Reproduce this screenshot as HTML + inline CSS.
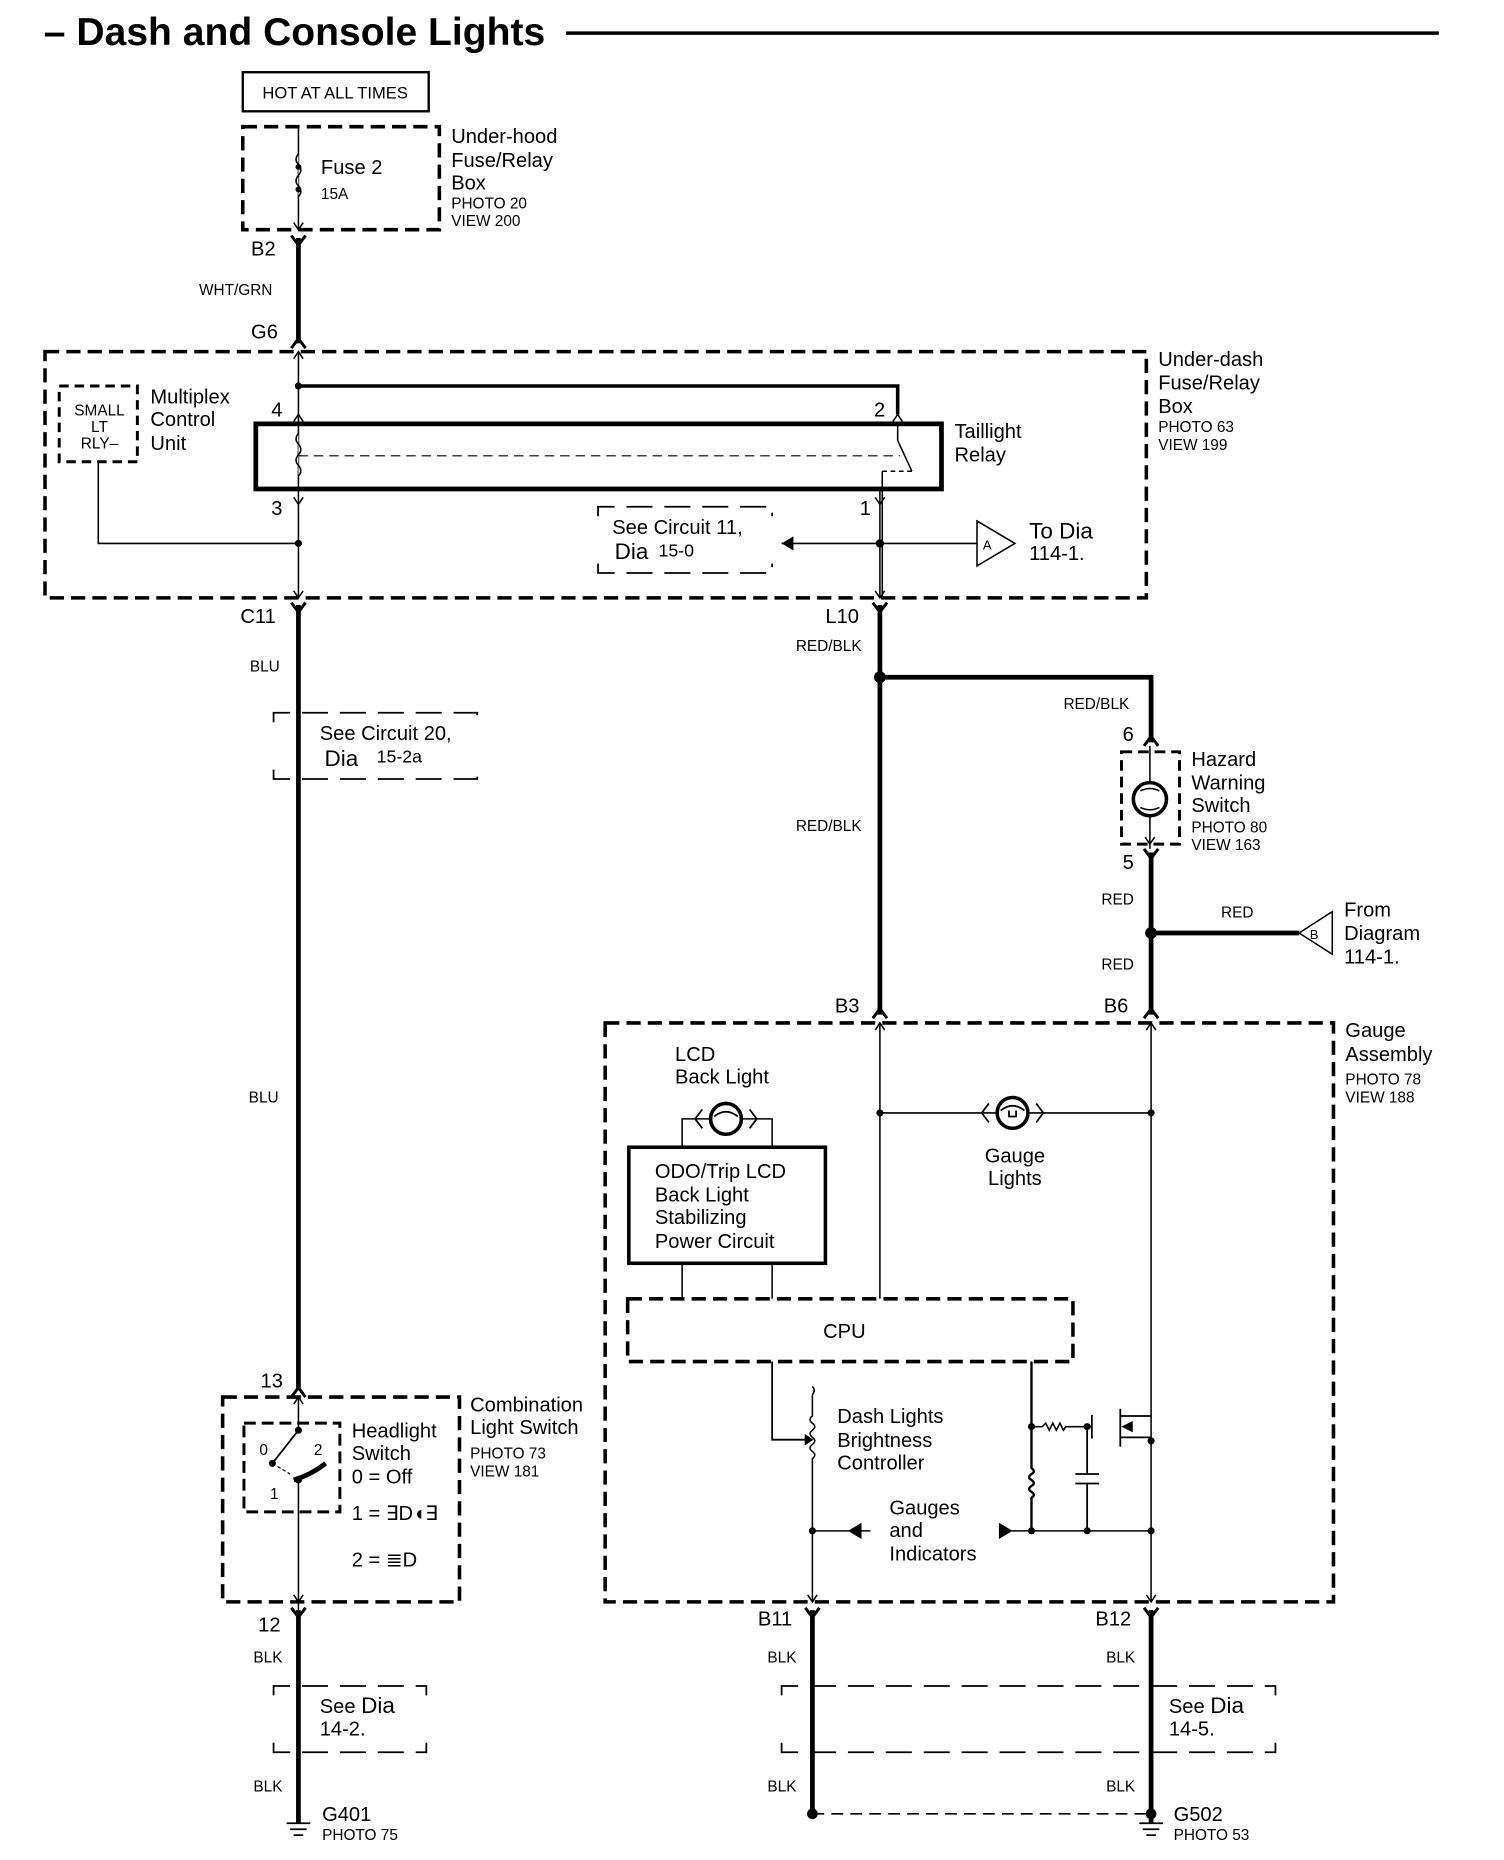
<!DOCTYPE html>
<html><head><meta charset="utf-8"><style>
html,body{margin:0;padding:0;background:#fff;}
svg{display:block;}
text{font-family:"Liberation Sans",sans-serif;fill:#000;}
.l{font-size:17px}.s{font-size:13px}.m{font-size:15px}
</style></head><body>
<svg width="1504" height="1860" viewBox="0 0 1270 1571" preserveAspectRatio="none" xmlns="http://www.w3.org/2000/svg">
<defs>
<path id="yd" d="M-6,-8 L0,0 L6,-8" fill="none" stroke="#000" stroke-width="2.5"/>
<path id="yu" d="M-6,8 L0,0 L6,8" fill="none" stroke="#000" stroke-width="2.5"/>
<path id="ad" d="M-4,-6 L0,0 L4,-6" fill="none" stroke="#000" stroke-width="1.3"/>
<path id="au" d="M-4,6 L0,0 L4,6" fill="none" stroke="#000" stroke-width="1.3"/>
</defs>
<g fill="none" stroke="#000">
<line x1="478" y1="28" x2="1215" y2="28" stroke-width="3"/>
<rect x="205" y="61" width="157" height="33" stroke-width="2"/>
<rect x="205" y="107" width="166" height="87" stroke-width="3" stroke-dasharray="12,6"/>
<line x1="252" y1="107" x2="252" y2="194" stroke-width="1.3"/>
<path d="M252,130 q-4,5 0,9 q4,5 0,9 q-4,5 0,9 q4,5 0,9" stroke-width="1.3" fill="#fff"/>
<use href="#ad" x="252" y="194"/>
<use href="#yd" x="252" y="207"/>
<line x1="252" y1="201" x2="252" y2="290" stroke-width="4"/>
<use href="#yu" x="252" y="286"/>
<rect x="38" y="297" width="930" height="208" stroke-width="3" stroke-dasharray="12,6"/>
<use href="#au" x="252" y="297"/>
<line x1="252" y1="297" x2="252" y2="505" stroke-width="1.3"/>
<polyline points="252,326 758,326 758,350" stroke-width="3"/>
<use href="#au" x="758" y="350"/><use href="#au" x="252" y="350"/>
<rect x="216" y="358" width="579" height="55" stroke-width="4" fill="#fff"/>
<line x1="252" y1="358" x2="252" y2="413" stroke-width="1.3"/>
<path d="M252,366 q-4,5 0,9 q4,5 0,9 q-4,5 0,9 q4,5 0,9" stroke-width="1.3" fill="#fff"/>
<line x1="252" y1="385" x2="760" y2="385" stroke-width="1" stroke-dasharray="8,5"/>
<line x1="758" y1="358" x2="758" y2="372" stroke-width="1.3"/>
<line x1="758" y1="372" x2="770" y2="398" stroke-width="1.3"/>
<line x1="770" y1="398" x2="745" y2="398" stroke-width="1.3" stroke-dasharray="4,3"/>
<line x1="745" y1="398" x2="745" y2="505" stroke-width="1.3"/>
<line x1="743" y1="413" x2="743" y2="505" stroke-width="1.3"/>
<use href="#ad" x="252" y="426"/><use href="#ad" x="743" y="426"/>
<polyline points="83,390 83,459 252,459" stroke-width="1.3"/>
<rect x="50" y="326" width="66" height="64" stroke-width="2.5" stroke-dasharray="8,5"/>
<path d="M505,436 V428 H652 V436 M505,476 V484 H652 V476" stroke-width="1.5" stroke-dasharray="22,10"/>
<line x1="660" y1="459" x2="825" y2="459" stroke-width="1.3"/>
<path d="M825,440 L857,459 L825,478 Z" stroke-width="1.3" fill="#fff"/>
<use href="#ad" x="252" y="505"/><use href="#ad" x="743" y="505"/>
<use href="#yd" x="252" y="517"/><use href="#yd" x="743" y="517"/>
<line x1="252" y1="511" x2="252" y2="1172" stroke-width="4"/>
<path d="M231,610 V602 H403 V610 M231,650 V658 H403 V650" stroke-width="1.5" stroke-dasharray="22,10"/>
<line x1="743" y1="511" x2="743" y2="857" stroke-width="4"/>
<polyline points="743,572 972,572 972,627" stroke-width="4"/>
<use href="#yu" x="972" y="622"/>
<rect x="947" y="635" width="49" height="78" stroke-width="2.5" stroke-dasharray="9,5"/>
<line x1="971" y1="630" x2="971" y2="717" stroke-width="1.3"/>
<circle cx="971" cy="675" r="14" stroke-width="3" fill="#fff"/>
<path d="M963,668 q8,-4 16,0 M963,682 q8,4 16,0" stroke-width="1.3"/>
<use href="#ad" x="971" y="713"/>
<use href="#yd" x="972" y="725"/>
<line x1="972" y1="720" x2="972" y2="857" stroke-width="4"/>
<line x1="972" y1="788" x2="1097" y2="788" stroke-width="4"/>
<path d="M1125,770 L1097,788 L1125,806 Z" stroke-width="1.3" fill="#fff"/>
<use href="#yu" x="743" y="852"/><use href="#yu" x="972" y="852"/>
<rect x="511" y="864" width="615" height="489" stroke-width="3" stroke-dasharray="12,6"/>
<use href="#au" x="743" y="864"/><use href="#au" x="972" y="864"/>
<line x1="743" y1="864" x2="743" y2="1097" stroke-width="1.3"/>
<line x1="972" y1="864" x2="972" y2="1353" stroke-width="1.3"/>
<line x1="743" y1="940" x2="972" y2="940" stroke-width="1.3"/>
<circle cx="855" cy="940" r="13" stroke-width="3" fill="#fff"/>
<path d="M835,932 l-6,8 l6,8 M875,932 l6,8 l-6,8 M845,938 q10,-8 20,0 M852,938 v5 h6 v-5" stroke-width="1.5"/>
<polyline points="576,969 576,945 600,945" stroke-width="1.3"/>
<polyline points="652,969 652,945 626,945" stroke-width="1.3"/>
<circle cx="613" cy="945" r="13" stroke-width="3" fill="#fff"/>
<path d="M593,937 l-6,8 l6,8 M633,937 l6,8 l-6,8 M603,943 q10,-8 20,0" stroke-width="1.5"/>
<rect x="531" y="969" width="166" height="98" stroke-width="3" fill="#fff"/>
<line x1="576" y1="1067" x2="576" y2="1097" stroke-width="1.3"/>
<line x1="652" y1="1067" x2="652" y2="1097" stroke-width="1.3"/>
<rect x="530" y="1097" width="376" height="53" stroke-width="3" stroke-dasharray="12,6" fill="#fff"/>
<polyline points="652,1150 652,1216 680,1216" stroke-width="1.5"/>
<path d="M680,1212 L686,1216 L680,1220 Z" fill="#000" stroke-width="1"/>
<path d="M686,1178 q3,-4 0,-7 M686,1178 v18 q-4,3 0,6 q4,3 0,6 q-4,3 0,6 q4,3 0,6 q-4,3 0,6 q4,3 0,6 v4 V1353" stroke-width="1.3"/>
<line x1="686" y1="1293" x2="735" y2="1293" stroke-width="1.3"/>
<path d="M717,1293 L727,1287 L727,1299 Z" fill="#000" stroke-width="1"/>
<line x1="845" y1="1293" x2="972" y2="1293" stroke-width="1.3"/>
<path d="M854,1293 L844,1287 L844,1299 Z" fill="#000" stroke-width="1"/>
<path d="M871,1150 V1240 q4,3 0,5 q-4,3 0,5 q4,3 0,5 q-4,3 0,5 q4,3 0,5 V1293" stroke-width="2"/>
<path d="M871,1205 H880 l3,-3 l3,6 l3,-6 l3,6 l3,-6 l3,6 l2,-3 H922" stroke-width="1.3"/>
<path d="M918,1205 V1245 M908,1245 H928 M908,1253 H928 M918,1253 V1293" stroke-width="1.5"/>
<path d="M922,1195 V1215 M946,1190 V1222 M946,1196 H972 M946,1214 H972" stroke-width="1.5"/>
<path d="M948,1205 L956,1201 L956,1209 Z" fill="#000" stroke-width="1"/>
<use href="#ad" x="686" y="1353"/><use href="#ad" x="972" y="1353"/>
<use href="#yd" x="686" y="1366"/><use href="#yd" x="972" y="1366"/>
<line x1="686" y1="1360" x2="686" y2="1532" stroke-width="4"/>
<line x1="972" y1="1360" x2="972" y2="1540" stroke-width="4"/>
<path d="M660,1432 V1424 H1077 V1432 M660,1472 V1480 H1077 V1472" stroke-width="1.5" stroke-dasharray="22,10"/>
<line x1="686" y1="1532" x2="972" y2="1532" stroke-width="1.3" stroke-dasharray="10,6"/>
<path d="M962,1540 H982 M965,1545 H979 M968,1550 H976" stroke-width="1.5"/>
<use href="#yu" x="252" y="1172"/>
<rect x="188" y="1180" width="200" height="173" stroke-width="3" stroke-dasharray="12,6"/>
<rect x="206" y="1202" width="81" height="75" stroke-width="2.5" stroke-dasharray="10,5"/>
<use href="#au" x="252" y="1180"/>
<line x1="252" y1="1180" x2="252" y2="1208" stroke-width="1.3"/>
<line x1="252" y1="1208" x2="230" y2="1236" stroke-width="1.5"/>
<line x1="230" y1="1236" x2="245" y2="1245" stroke-width="1" stroke-dasharray="3,2"/>
<path d="M248,1250 Q262,1246 275,1236" stroke-width="4"/>
<line x1="252" y1="1250" x2="252" y2="1360" stroke-width="1.3"/>
<use href="#ad" x="252" y="1353"/>
<use href="#yd" x="252" y="1366"/>
<line x1="252" y1="1360" x2="252" y2="1540" stroke-width="4"/>
<path d="M231,1432 V1424 H360 V1432 M231,1472 V1480 H360 V1472" stroke-width="1.5" stroke-dasharray="22,10"/>
<path d="M242,1540 H262 M245,1545 H259 M248,1550 H256" stroke-width="1.5"/>
</g>
<g fill="#000">
<circle cx="252" cy="326" r="3"/><circle cx="252" cy="459" r="3"/><circle cx="743" cy="459" r="3.5"/>
<path d="M660,459 L670,453 L670,465 Z"/>
<circle cx="743" cy="572" r="5"/><circle cx="972" cy="788" r="5"/>
<circle cx="743" cy="940" r="3"/><circle cx="972" cy="940" r="3"/>
<circle cx="686" cy="1293" r="3"/><circle cx="871" cy="1293" r="3"/><circle cx="918" cy="1293" r="3"/><circle cx="972" cy="1293" r="3"/>
<circle cx="871" cy="1205" r="3"/><circle cx="918" cy="1205" r="3"/><circle cx="972" cy="1217" r="3"/>
<circle cx="686" cy="1532" r="4.5"/><circle cx="972" cy="1532" r="4.5"/>
<circle cx="252" cy="1208" r="3"/><circle cx="230" cy="1236" r="3"/><circle cx="252" cy="1250" r="3"/>
<circle cx="252" cy="141" r="2.5"/><circle cx="252" cy="160" r="2.5"/>
</g>
<text x="37" y="38" style="font-size:33px;font-weight:bold">– Dash and Console Lights</text>
<text x="283" y="83" class="s" text-anchor="middle" style="font-size:14px">HOT AT ALL TIMES</text>
<text x="271" y="147" class="l">Fuse 2</text><text x="271" y="168" class="s">15A</text>
<text x="381" y="121" class="l">Under-hood</text><text x="381" y="141" class="l">Fuse/Relay</text><text x="381" y="160" class="l">Box</text>
<text x="381" y="176" class="s">PHOTO 20</text><text x="381" y="191" class="s">VIEW 200</text>
<text x="212" y="216" class="l">B2</text>
<text x="168" y="249" class="s">WHT/GRN</text>
<text x="212" y="286" class="l">G6</text>
<text x="978" y="309" class="l">Under-dash</text><text x="978" y="329" class="l">Fuse/Relay</text><text x="978" y="349" class="l">Box</text>
<text x="978" y="365" class="s">PHOTO 63</text><text x="978" y="380" class="s">VIEW 199</text>
<text x="84" y="351" class="s" text-anchor="middle">SMALL</text><text x="84" y="365" class="s" text-anchor="middle">LT</text><text x="84" y="379" class="s" text-anchor="middle">RLY–</text>
<text x="127" y="341" class="l">Multiplex</text><text x="127" y="360" class="l">Control</text><text x="127" y="380" class="l">Unit</text>
<text x="229" y="352" class="l">4</text><text x="738" y="352" class="l">2</text>
<text x="806" y="370" class="l">Taillight</text><text x="806" y="390" class="l">Relay</text>
<text x="229" y="435" class="l">3</text><text x="726" y="435" class="l">1</text>
<text x="517" y="451" class="l">See Circuit 11,</text>
<text x="519" y="472" style="font-size:19px">Dia</text><text x="556" y="470" class="m">15-0</text>
<text x="830" y="464" style="font-size:11px">A</text>
<text x="869" y="455" style="font-size:19px">To Dia</text><text x="869" y="473" class="l">114-1.</text>
<text x="203" y="526" class="l">C11</text><text x="697" y="526" class="l">L10</text>
<text x="672" y="550" class="s">RED/BLK</text>
<text x="211" y="567" class="s">BLU</text>
<text x="270" y="625" class="l">See Circuit 20,</text>
<text x="274" y="647" style="font-size:19px">Dia</text><text x="318" y="644" class="m">15-2a</text>
<text x="898" y="599" class="s">RED/BLK</text>
<text x="948" y="626" class="l">6</text><text x="948" y="734" class="l">5</text>
<text x="1006" y="647" class="l">Hazard</text><text x="1006" y="667" class="l">Warning</text><text x="1006" y="686" class="l">Switch</text>
<text x="1006" y="703" class="s">PHOTO 80</text><text x="1006" y="718" class="s">VIEW 163</text>
<text x="672" y="702" class="s">RED/BLK</text>
<text x="930" y="764" class="s">RED</text><text x="1031" y="775" class="s">RED</text><text x="930" y="819" class="s">RED</text>
<text x="1106" y="793" style="font-size:11px">B</text>
<text x="1135" y="774" class="l">From</text><text x="1135" y="794" class="l">Diagram</text><text x="1135" y="814" class="l">114-1.</text>
<text x="705" y="855" class="l">B3</text><text x="932" y="855" class="l">B6</text>
<text x="1136" y="876" class="l">Gauge</text><text x="1136" y="896" class="l">Assembly</text>
<text x="1136" y="916" class="s">PHOTO 78</text><text x="1136" y="931" class="s">VIEW 188</text>
<text x="210" y="931" class="s">BLU</text>
<text x="570" y="896" class="l">LCD</text><text x="570" y="915" class="l">Back Light</text>
<text x="857" y="982" class="l" text-anchor="middle">Gauge</text><text x="857" y="1001" class="l" text-anchor="middle">Lights</text>
<text x="553" y="995" class="l">ODO/Trip LCD</text><text x="553" y="1015" class="l">Back Light</text><text x="553" y="1034" class="l">Stabilizing</text><text x="553" y="1054" class="l">Power Circuit</text>
<text x="713" y="1130" class="l" text-anchor="middle">CPU</text>
<text x="707" y="1202" class="l">Dash Lights</text><text x="707" y="1222" class="l">Brightness</text><text x="707" y="1241" class="l">Controller</text>
<text x="751" y="1279" class="l">Gauges</text><text x="751" y="1298" class="l">and</text><text x="751" y="1318" class="l">Indicators</text>
<text x="220" y="1172" class="l">13</text>
<text x="397" y="1192" class="l">Combination</text><text x="397" y="1211" class="l">Light Switch</text>
<text x="397" y="1232" class="s">PHOTO 73</text><text x="397" y="1247" class="s">VIEW 181</text>
<text x="219" y="1229" class="s">0</text><text x="265" y="1229" class="s">2</text><text x="228" y="1266" class="s">1</text>
<text x="297" y="1214" class="l">Headlight</text><text x="297" y="1233" class="l">Switch</text><text x="297" y="1253" class="l">0 = Off</text>
<text x="297" y="1284" class="l">1 = ∃D◖∃</text><text x="297" y="1323" class="l">2 = ≣D</text>
<text x="218" y="1378" class="l">12</text>
<text x="640" y="1373" class="l">B11</text><text x="925" y="1373" class="l">B12</text>
<text x="214" y="1404" class="s">BLK</text><text x="648" y="1404" class="s">BLK</text><text x="934" y="1404" class="s">BLK</text>
<text x="270" y="1447" class="l">See <tspan style="font-size:19px">Dia</tspan></text><text x="270" y="1466" class="l">14-2.</text>
<text x="987" y="1447" class="l">See <tspan style="font-size:19px">Dia</tspan></text><text x="987" y="1466" class="l">14-5.</text>
<text x="214" y="1513" class="s">BLK</text><text x="648" y="1513" class="s">BLK</text><text x="934" y="1513" class="s">BLK</text>
<text x="272" y="1538" class="l">G401</text><text x="272" y="1554" class="s">PHOTO 75</text>
<text x="991" y="1538" class="l">G502</text><text x="991" y="1554" class="s">PHOTO 53</text>
</svg>
</body></html>
